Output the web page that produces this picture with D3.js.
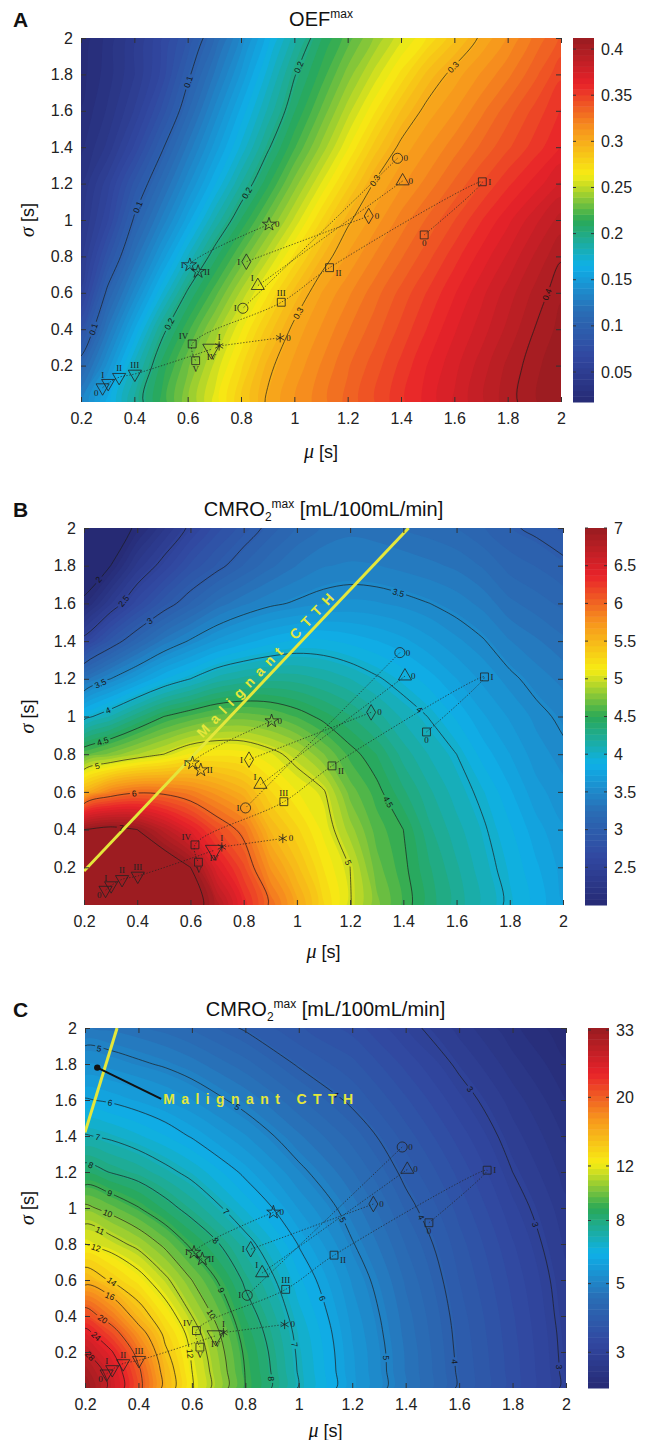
<!DOCTYPE html>
<html><head><meta charset="utf-8">
<script src="https://cdn.jsdelivr.net/npm/d3@7"></script>
<style>
body{margin:0;background:#fff;}
svg{display:block;font-family:"Liberation Sans",Arial,sans-serif;}
</style></head><body>
<svg id="fig" width="649" height="1440"></svg>
<script>
// ---------- sampling grid for panels A and B (mu = mean transit time, sigma = heterogeneity) ----------
const muGrid = [0.2,0.3,0.4,0.5,0.6,0.7,0.8,0.9,1.0,1.1,1.2,1.3,1.4,1.5,1.6,1.7,1.8,1.9,2.0];
const sigmaGrid = [0,0.2,0.4,0.6,0.8,1.0,1.2,1.4,1.6,1.8,2.0];

// OEFmax, one row per sigma value
const oefMax = [
 [0.132,0.162,0.192,0.216,0.238,0.260,0.282,0.302,0.313,0.323,0.334,0.344,0.355,0.365,0.376,0.386,0.397,0.405,0.413],
 [0.107,0.143,0.180,0.210,0.232,0.253,0.275,0.297,0.309,0.320,0.331,0.341,0.352,0.363,0.373,0.384,0.395,0.404,0.411],
 [0.080,0.123,0.159,0.195,0.219,0.241,0.263,0.285,0.303,0.314,0.325,0.335,0.346,0.357,0.368,0.378,0.389,0.400,0.408],
 [0.056,0.104,0.137,0.170,0.202,0.224,0.247,0.269,0.291,0.307,0.318,0.329,0.340,0.351,0.362,0.373,0.384,0.395,0.405],
 [0.046,0.083,0.118,0.148,0.178,0.206,0.228,0.250,0.272,0.294,0.308,0.320,0.331,0.342,0.354,0.365,0.376,0.388,0.399],
 [0.040,0.066,0.102,0.129,0.156,0.184,0.209,0.231,0.253,0.276,0.298,0.310,0.322,0.333,0.344,0.356,0.367,0.379,0.390],
 [0.036,0.058,0.087,0.113,0.139,0.164,0.190,0.213,0.236,0.258,0.280,0.301,0.312,0.322,0.333,0.344,0.355,0.365,0.376],
 [0.028,0.044,0.068,0.097,0.124,0.149,0.173,0.198,0.220,0.241,0.263,0.285,0.303,0.313,0.323,0.333,0.343,0.353,0.363],
 [0.024,0.037,0.055,0.080,0.109,0.136,0.161,0.185,0.208,0.228,0.249,0.269,0.289,0.304,0.313,0.324,0.335,0.346,0.357],
 [0.021,0.033,0.048,0.068,0.097,0.123,0.148,0.174,0.199,0.217,0.236,0.254,0.272,0.291,0.304,0.314,0.324,0.336,0.349],
 [0.019,0.032,0.047,0.066,0.086,0.110,0.136,0.162,0.187,0.208,0.224,0.240,0.256,0.271,0.287,0.302,0.314,0.327,0.339]
];

// CMRO2max [mL/100mL/min], one row per sigma value
const cmroB = [
 [9.50,8.80,8.10,7.60,7.20,6.80,6.35,5.97,5.63,5.29,5.01,4.76,4.56,4.38,4.23,4.09,3.97,3.84,3.72],
 [8.25,7.94,7.55,7.24,7.00,6.47,6.16,5.74,5.46,5.20,5.00,4.69,4.53,4.35,4.20,4.06,3.94,3.81,3.69],
 [7.00,7.09,7.00,6.73,6.44,6.15,5.94,5.51,5.30,5.10,4.85,4.62,4.50,4.28,4.14,4.02,3.89,3.75,3.65],
 [5.55,5.85,5.97,5.95,5.86,5.71,5.55,5.29,5.13,5.02,4.70,4.54,4.36,4.20,4.07,3.96,3.81,3.67,3.59],
 [4.63,4.76,4.89,5.00,5.14,5.18,5.16,5.06,4.93,4.74,4.55,4.42,4.23,4.10,4.00,3.84,3.72,3.60,3.53],
 [3.94,4.12,4.32,4.50,4.60,4.68,4.70,4.66,4.57,4.46,4.35,4.22,4.09,3.99,3.86,3.73,3.63,3.54,3.47],
 [3.29,3.50,3.69,3.87,4.00,4.14,4.21,4.24,4.23,4.18,4.11,4.02,3.93,3.83,3.72,3.62,3.53,3.45,3.38],
 [2.57,2.89,3.14,3.36,3.52,3.66,3.76,3.84,3.89,3.89,3.85,3.80,3.74,3.66,3.58,3.51,3.41,3.34,3.27],
 [2.05,2.38,2.67,2.91,3.10,3.28,3.39,3.47,3.52,3.56,3.58,3.57,3.54,3.50,3.45,3.38,3.27,3.21,3.15],
 [1.80,2.00,2.34,2.57,2.80,2.95,3.10,3.23,3.33,3.40,3.42,3.41,3.38,3.35,3.31,3.24,3.14,3.09,3.03],
 [1.60,1.80,2.05,2.30,2.54,2.75,2.90,3.05,3.18,3.26,3.30,3.28,3.25,3.21,3.17,3.10,3.02,2.97,2.92]
];

// sampling grid for panel C
const muC = [0.2,0.3,0.4,0.5,0.6,0.8,1.0,1.2,1.4,1.6,1.8,2.0];
const sigmaC = [0,0.1,0.2,0.3,0.4,0.6,0.8,1.0,1.2,1.4,1.6,1.8,2.0];
// CMRO2max [mL/100mL/min] on a log colour scale, one row per sigma value
const cmroC = [
 [33.4,26.8,20.8,15.2,12.1,9.00,6.95,5.60,4.68,3.95,3.42,2.94],
 [31.5,26.1,20.4,15.0,12.0,8.96,6.93,5.59,4.67,3.95,3.42,2.94],
 [28.2,24.2,19.0,14.3,11.8,8.85,6.88,5.57,4.66,3.93,3.41,2.93],
 [25.2,21.4,17.1,13.6,11.5,8.65,6.80,5.52,4.62,3.91,3.39,2.92],
 [21.5,18.5,15.0,12.7,11.0,8.40,6.66,5.45,4.58,3.88,3.37,2.90],
 [15.1,13.8,12.5,11.2,10.0,7.85,6.35,5.28,4.46,3.80,3.31,2.87],
 [12.0,11.4,10.7,9.80,8.80,7.25,5.97,5.03,4.30,3.71,3.23,2.81],
 [10.2,9.67,9.04,8.32,7.67,6.50,5.52,4.79,4.11,3.59,3.12,2.75],
 [8.33,7.95,7.63,7.20,6.79,5.88,5.11,4.51,3.91,3.45,3.00,2.67],
 [7.05,6.87,6.59,6.29,5.95,5.33,4.72,4.23,3.72,3.29,2.89,2.59],
 [6.04,5.92,5.74,5.54,5.32,4.83,4.34,3.93,3.52,3.12,2.78,2.50],
 [5.31,5.21,5.07,4.94,4.77,4.38,3.96,3.69,3.31,2.95,2.65,2.41],
 [4.70,4.64,4.54,4.42,4.28,3.96,3.67,3.44,3.09,2.79,2.53,2.32]
];

// ---------- contour levels and label spots [level, mu, sigma] ----------
const levelsA = [0.1,0.2,0.3,0.4];
const labelSpotsA = [[0.1,0.62,1.75],[0.1,0.43,1.06],[0.1,0.215,0.27],[0.2,1.1,1.79],[0.2,0.82,1.15],[0.2,0.53,0.43],[0.3,1.66,1.75],[0.3,1.32,1.2],[0.3,1.0,0.5],[0.4,1.93,0.6]];
const levelsB = [2,2.5,3,3.5,4,4.5,5,6,7];
const labelSpotsB = [[7,0.34,0.41],[6,0.39,0.58],[5,0.26,0.68],[5,1.2,0.23],[4.5,1.36,0.56],[4.5,0.27,0.87],[4,1.47,1.05],[4,0.3,1.0],[3.5,1.38,1.65],[3.5,0.26,1.18],[3,0.45,1.5],[2.5,0.36,1.6],[2,0.26,1.72]];
const levelsC = [3,4,5,6,7,8,9,10,11,12,14,16,20,24,28];
const labelSpotsC = [[28,0.205,0.16],[24,0.23,0.27],[20,0.26,0.37],[16,0.29,0.5],[14,0.31,0.61],[12,0.25,0.82],[11,0.264,0.9],[10,0.286,0.975],[9,0.294,1.086],[8,0.226,1.257],[7,0.249,1.407],[6,0.294,1.585],[5,0.249,1.856],[5,0.77,1.56],[4,1.14,1.63],[3,1.65,1.67],[12,0.59,0.19],[10,0.66,0.4],[9,0.705,0.54],[8,0.69,0.82],[7,0.735,0.99],[8,0.874,0.05],[7,0.978,0.24],[6,1.07,0.49],[5,1.297,0.166],[4,1.56,0.144],[3,1.96,0.116],[3,1.89,0.91],[4,1.46,0.95],[5,1.2,0.96]];

// colour bar ticks and axis ticks
const cbTicksA = [0.05,0.1,0.15,0.2,0.25,0.3,0.35,0.4];
const cbTicksB = [2.5,3,3.5,4,4.5,5,5.5,6,6.5,7];
const cbTicksC = [3,5,8,12,20,33];
const axisTicks = [0.2,0.4,0.6,0.8,1,1.2,1.4,1.6,1.8,2];

// ---------- measured states (same in every panel) ----------
const circleMu = [1.387,0.807],  circleSigma = [1.339,0.515],  circleTags = ['0','I'];
const triUpMu = [1.406,0.863],   triUpSigma = [1.214,0.639],   triUpTags = ['0','I'];
const diamondMu = [1.279,0.820], diamondSigma = [1.022,0.771], diamondTags = ['0','I'];
const starMu = [0.905,0.608,0.639], starSigma = [0.976,0.753,0.716], starTags = ['0','I','II'];
const squareMu = [1.487,1.705,1.132,0.951,0.617,0.630], squareSigma = [0.918,1.210,0.738,0.548,0.319,0.227], squareTags = ['0','I','II','III','IV','V'];
const asteriskMu = [0.947,0.718], asteriskSigma = [0.353,0.308], asteriskTags = ['0','I'];
const triDownMu = [0.281,0.302,0.343,0.402,0.689], triDownSigma = [0.079,0.103,0.136,0.154,0.290], triDownTags = ['0','I','II','III','IV'];

// malignant CTTH boundary lines
const ctthB = [[0.2,0.18],[1.42,2.0]];
const ctthC = [[0.2,1.42],[0.32,2.0]];
const ctthPointC = [0.246,1.78];

// ---------- styling ----------
const jetStops = [[0,'#262a74'],[0.125,'#3147a0'],[0.25,'#2a6db5'],[0.375,'#0eb0e8'],[0.5,'#2aa956'],[0.625,'#f7ec13'],[0.75,'#f7941d'],[0.875,'#e8222a'],[1,'#981c20']];
const jet = d3.scaleLinear().domain(jetStops.map(d=>d[0])).range(jetStops.map(d=>d[1])).interpolate(d3.interpolateRgb).clamp(true);

const series = [
 {shape:'circle', mu:circleMu, sigma:circleSigma, tags:circleTags, side:['r','l']},
 {shape:'triUp', mu:triUpMu, sigma:triUpSigma, tags:triUpTags, side:['r','tl']},
 {shape:'diamond', mu:diamondMu, sigma:diamondSigma, tags:diamondTags, side:['r','l']},
 {shape:'star', mu:starMu, sigma:starSigma, tags:starTags, side:['r','l','r']},
 {shape:'square', mu:squareMu, sigma:squareSigma, tags:squareTags, side:['b','r','br','t','tl','b']},
 {shape:'asterisk', mu:asteriskMu, sigma:asteriskSigma, tags:asteriskTags, side:['r','t']},
 {shape:'triDown', mu:triDownMu, sigma:triDownSigma, tags:triDownTags, side:['bl','tl','t','t','b']}
];
const symType = {circle:d3.symbolCircle, triUp:d3.symbolTriangle, diamond:d3.symbolDiamond, star:d3.symbolStar,
  square:d3.symbolSquare, asterisk:(d3.symbolAsterisk||d3.symbolCross), triDown:d3.symbolTriangle};
const symSize = {circle:80, triUp:75, diamond:70, star:55, square:62, asterisk:60, triDown:75};
const sideOff = {r:[6,3,'start'], l:[-6,3,'end'], t:[0,-6,'middle'], b:[0,11,'middle'], tl:[-4,-5,'end'], tr:[4,-5,'start'], br:[6,8,'start'], bl:[-4,8,'end']};

const panels = [
 {key:'A', box:{x0:81,x1:561,y0:38,y1:402}, cbar:{x0:573,x1:594}, mu:muGrid, sigma:sigmaGrid, values:oefMax, log:false,
  domain:[0.0175,0.412], cbTicks:cbTicksA, levels:levelsA, spots:labelSpotsA, title:'A', titleY:26, muY:458},
 {key:'B', box:{x0:84,x1:563,y0:528,y1:905}, cbar:{x0:585,x1:607}, mu:muGrid, sigma:sigmaGrid, values:cmroB, log:false,
  domain:[2,7], cbTicks:cbTicksB, levels:levelsB, spots:labelSpotsB, title:'B', titleY:516, muY:958, ctth:ctthB},
 {key:'C', box:{x0:85,x1:566,y0:1028,y1:1388}, cbar:{x0:588,x1:609}, mu:muC, sigma:sigmaC, values:cmroC, log:true,
  domain:[2.3,33.5], cbTicks:cbTicksC, levels:levelsC, spots:labelSpotsC, title:'C', titleY:1016, muY:1437, ctth:ctthC, ctthPoint:ctthPointC}
];

const svg = d3.select('#fig');
const defs = svg.append('defs');
const fmt = d => d3.format('~g')(+(+d).toFixed(2));

function addTitle(p) {
  const cx = (p.box.x0 + p.box.x1) / 2;
  svg.append('text').attr('x', 13).attr('y', p.titleY + 1).attr('font-size', 21).attr('font-weight', 'bold').attr('fill', '#111').text(p.title);
  const t = svg.append('text').attr('x', cx).attr('y', p.titleY).attr('text-anchor', 'middle').attr('font-size', 20).attr('fill', '#111');
  if (p.key === 'A') {
    t.append('tspan').text('OEF');
    t.append('tspan').attr('font-size', 12).attr('dy', -8).text('max');
  } else {
    t.append('tspan').text('CMRO');
    t.append('tspan').attr('font-size', 12).attr('dy', 5).text('2');
    t.append('tspan').attr('font-size', 12).attr('dy', -13).text('max');
    t.append('tspan').attr('dy', 8).text(' [mL/100mL/min]');
  }
}

function drawPanel(p) {
  const {x0, x1, y0, y1} = p.box;
  const x = d3.scaleLinear([0.2, 2], [x0, x1]);
  const y = d3.scaleLinear([0, 2], [y1, y0]);
  const n = p.mu.length, m = p.sigma.length;
  const iMu = d3.scaleLinear(d3.range(n), p.mu);
  const jSig = d3.scaleLinear(d3.range(m), p.sigma);
  const toPx = c => [x(iMu(c[0] - 0.5)), y(jSig(c[1] - 0.5))];
  const flat = p.values.flat();
  const lo = p.domain[0], hi = p.domain[1];
  const tOf = p.log ? v => Math.log(v / lo) / Math.log(hi / lo) : v => (v - lo) / (hi - lo);
  const vOf = t => p.log ? lo * Math.pow(hi / lo, t) : lo + t * (hi - lo);
  const N = 64;
  const smooth = d3.line().curve(d3.curveCatmullRomClosed.alpha(0.5));
  const geomPath = g => g.coordinates.map(poly => poly.map(r => smooth(r.slice(0, -1).map(toPx))).join('')).join('');

  defs.append('clipPath').attr('id', 'clip' + p.key).append('rect')
    .attr('x', x0).attr('y', y0).attr('width', x1 - x0).attr('height', y1 - y0);
  const gf = svg.append('g').attr('clip-path', `url(#clip${p.key})`);
  gf.append('rect').attr('x', x0).attr('y', y0).attr('width', x1 - x0).attr('height', y1 - y0).attr('fill', jet(0));

  // filled bands
  const thr = d3.range(N).map(k => vOf(k / N));
  const bands = d3.contours().size([n, m]).thresholds(thr)(flat);
  gf.append('g').selectAll('path').data(bands).join('path')
    .attr('d', geomPath).attr('fill', (d, k) => jet((k + 0.5) / N)).attr('fill-rule', 'evenodd');

  // contour lines, broken where their labels sit
  const lines = d3.contours().size([n, m]).thresholds(p.levels)(flat);
  const mask = defs.append('mask').attr('id', 'mask' + p.key).attr('maskUnits', 'userSpaceOnUse')
    .attr('x', 0).attr('y', 0).attr('width', 649).attr('height', 1440);
  mask.append('rect').attr('x', 0).attr('y', 0).attr('width', 649).attr('height', 1440).attr('fill', '#fff');
  gf.append('g').attr('mask', `url(#mask${p.key})`).selectAll('path').data(lines).join('path')
    .attr('d', geomPath).attr('fill', 'none').attr('stroke', '#1c1c1c').attr('stroke-width', 0.8).attr('stroke-opacity', 0.85);

  const ringsPx = new Map(lines.map(c => [c.value, c.coordinates.flatMap(poly => poly.map(r => r.map(toPx)))]));
  const inBox = q => q[0] > x0 + 3 && q[0] < x1 - 3 && q[1] > y0 + 3 && q[1] < y1 - 3;
  const gl = svg.append('g');
  p.spots.forEach(([lev, mu, sg]) => {
    const ax = x(mu), ay = y(sg);
    let best = null, bd = Infinity;
    (ringsPx.get(lev) || []).forEach(r => {
      for (let i = 0; i < r.length - 1; i++) {
        const a = r[i], b = r[i + 1];
        const dx = b[0] - a[0], dy = b[1] - a[1], L2 = dx * dx + dy * dy;
        if (!L2) continue;
        const u = Math.max(0, Math.min(1, ((ax - a[0]) * dx + (ay - a[1]) * dy) / L2));
        const q = [a[0] + u * dx, a[1] + u * dy];
        const d = (q[0] - ax) ** 2 + (q[1] - ay) ** 2;
        if (d < bd && inBox(q)) { bd = d; best = {q, ang: Math.atan2(dy, dx) * 180 / Math.PI}; }
      }
    });
    if (!best || bd > 900) return;
    let ang = best.ang;
    if (ang > 90) ang -= 180;
    if (ang < -90) ang += 180;
    const tr = `translate(${best.q[0].toFixed(1)},${best.q[1].toFixed(1)}) rotate(${ang.toFixed(1)})`;
    const txt = gl.append('text').attr('transform', tr)
      .attr('text-anchor', 'middle').attr('dy', '0.35em').attr('font-size', 8.5).attr('fill', '#151515').text(fmt(lev));
    const w = txt.node().getComputedTextLength() + 4;
    mask.append('rect').attr('x', -w / 2).attr('y', -4.5).attr('width', w).attr('height', 9)
      .attr('transform', tr).attr('fill', '#000');
  });

  // malignant CTTH boundary
  if (p.ctth) {
    const a = [x(p.ctth[0][0]), y(p.ctth[0][1])], b = [x(p.ctth[1][0]), y(p.ctth[1][1])];
    gf.append('line').attr('x1', a[0]).attr('y1', a[1]).attr('x2', b[0]).attr('y2', b[1])
      .attr('stroke', '#e4e73b').attr('stroke-width', 3);
  }

  // trajectories of measured states
  const gm = svg.append('g').attr('clip-path', `url(#clip${p.key})`);
  const trail = d3.line().curve(d3.curveCatmullRom.alpha(0.5));
  series.forEach(s => {
    const pts = s.mu.map((v, i) => [x(v), y(s.sigma[i])]);
    gm.append('path').attr('d', trail(pts)).attr('fill', 'none').attr('stroke', '#222')
      .attr('stroke-width', 0.8).attr('stroke-dasharray', '1.4,1.6').attr('opacity', 0.85);
    pts.forEach((pt, i) => {
      const big = s.shape === 'triDown' && s.tags[i] === 'IV';
      const sym = d3.symbol().type(symType[s.shape]).size(big ? 130 : symSize[s.shape]);
      gm.append('path').attr('d', sym()).attr('fill', 'none').attr('stroke', '#222').attr('stroke-width', 0.8)
        .attr('transform', `translate(${pt[0]},${pt[1]})${s.shape === 'triDown' ? ' rotate(180)' : ''}`);
      const o = sideOff[s.side[i]];
      gm.append('text').attr('x', pt[0] + o[0]).attr('y', pt[1] + o[1]).attr('text-anchor', o[2])
        .attr('font-family', '"Liberation Serif",serif').attr('font-size', 9).attr('fill', '#222').text(s.tags[i]);
    });
  });

  if (p.ctth) {
    const a = [x(p.ctth[0][0]), y(p.ctth[0][1])], b = [x(p.ctth[1][0]), y(p.ctth[1][1])];
    if (p.key === 'B') {
      const ang = Math.atan2(b[1] - a[1], b[0] - a[0]) * 180 / Math.PI;
      const f = 0.58;
      const cx = a[0] + f * (b[0] - a[0]), cy = a[1] + f * (b[1] - a[1]);
      svg.append('text').attr('transform', `translate(${cx},${cy}) rotate(${ang}) translate(0,-5)`)
        .attr('text-anchor', 'middle').attr('font-size', 14).attr('font-weight', 'bold').attr('fill', '#e4e73b')
        .attr('textLength', 192).attr('lengthAdjust', 'spacing').text('Malignant CTTH');
    } else {
      const dp = [x(p.ctthPoint[0]), y(p.ctthPoint[1])];
      const tx = x(0.485), ty = y(1.59);
      svg.append('line').attr('x1', dp[0]).attr('y1', dp[1]).attr('x2', tx).attr('y2', ty - 3).attr('stroke', '#111').attr('stroke-width', 2);
      svg.append('circle').attr('cx', dp[0]).attr('cy', dp[1]).attr('r', 3.2).attr('fill', '#111');
      svg.append('text').attr('x', tx + 2).attr('y', ty + 2).attr('font-size', 14).attr('font-weight', 'bold').attr('fill', '#e4e73b')
        .attr('textLength', 190).attr('lengthAdjust', 'spacing').text('Malignant CTTH');
    }
  }

  // axes with inward ticks on all four sides
  const styleAxis = g => { g.select('.domain').remove(); g.selectAll('line').attr('stroke', '#333');
    g.selectAll('text').attr('font-size', 16).attr('fill', '#222').attr('font-family', '"Liberation Sans",Arial,sans-serif'); };
  svg.append('g').attr('transform', `translate(0,${y1})`).call(d3.axisBottom(x).tickValues(axisTicks).tickFormat(fmt).tickSize(-5).tickPadding(11)).call(styleAxis);
  svg.append('g').attr('transform', `translate(0,${y0})`).call(d3.axisTop(x).tickValues(axisTicks).tickFormat('').tickSize(-5)).call(styleAxis);
  svg.append('g').attr('transform', `translate(${x0},0)`).call(d3.axisLeft(y).tickValues(axisTicks).tickFormat(fmt).tickSize(-5).tickPadding(8)).call(styleAxis);
  svg.append('g').attr('transform', `translate(${x1},0)`).call(d3.axisRight(y).tickValues(axisTicks).tickFormat('').tickSize(-5)).call(styleAxis);

  // axis titles
  const xl = svg.append('text').attr('x', (x0 + x1) / 2).attr('y', p.muY).attr('text-anchor', 'middle').attr('font-size', 18).attr('fill', '#111');
  xl.append('tspan').attr('font-family', '"Liberation Serif",serif').attr('font-style', 'italic').attr('font-size', 20).text('μ');
  xl.append('tspan').text(' [s]');
  const yl = svg.append('text').attr('transform', `translate(34,${(y0 + y1) / 2}) rotate(-90)`).attr('text-anchor', 'middle').attr('font-size', 18).attr('fill', '#111');
  yl.append('tspan').attr('font-family', '"Liberation Serif",serif').attr('font-style', 'italic').attr('font-size', 20).text('σ');
  yl.append('tspan').text(' [s]');

  // colour bar
  const cb = p.cbar;
  const cy = d3.scaleLinear([0, 1], [y1, y0]);
  const gc = svg.append('g');
  gc.selectAll('rect').data(d3.range(N)).join('rect')
    .attr('x', cb.x0).attr('width', cb.x1 - cb.x0)
    .attr('y', k => cy((k + 1) / N)).attr('height', k => cy(k / N) - cy((k + 1) / N) + 0.5)
    .attr('fill', k => jet((k + 0.5) / N));
  p.cbTicks.forEach(v => {
    const yy = cy(tOf(v));
    gc.append('line').attr('x1', cb.x0).attr('x2', cb.x0 + 3).attr('y1', yy).attr('y2', yy).attr('stroke', '#333');
    gc.append('line').attr('x1', cb.x1 - 3).attr('x2', cb.x1).attr('y1', yy).attr('y2', yy).attr('stroke', '#333');
    gc.append('text').attr('x', cb.x1 + 7).attr('y', yy).attr('dy', '0.35em').attr('font-size', 16).attr('fill', '#222').text(fmt(v));
  });

  addTitle(p);
}

panels.forEach(drawPanel);
</script>
</body></html>
